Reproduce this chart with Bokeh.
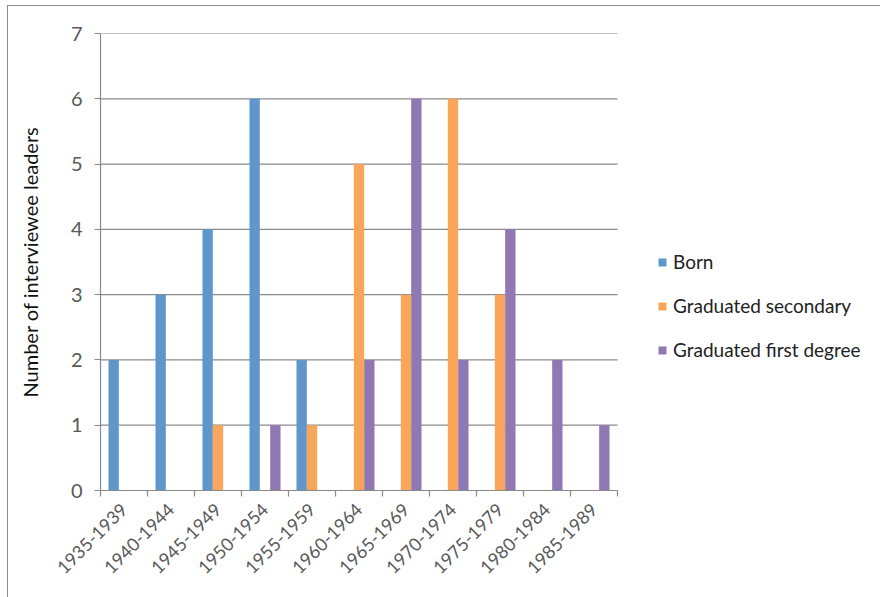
import math

from bokeh.embed import file_html
from bokeh.models import (ColumnDataSource, FixedTicker, InlineStyleSheet, Legend,
                          LegendItem, Range1d)
from bokeh.plotting import figure
from bokeh.resources import INLINE
from bokeh.transform import dodge

# Five-year periods and counts of interviewee leaders per event
periods = ["1935-1939", "1940-1944", "1945-1949", "1950-1954", "1955-1959",
           "1960-1964", "1965-1969", "1970-1974", "1975-1979", "1980-1984",
           "1985-1989"]
born = [2, 3, 4, 6, 2, 0, 0, 0, 0, 0, 0]
graduated_secondary = [0, 0, 1, 0, 1, 5, 3, 6, 3, 0, 0]
graduated_first_degree = [0, 0, 0, 1, 0, 2, 6, 2, 4, 2, 1]
series_labels = ["Born", "Graduated secondary", "Graduated first degree"]
y_ticks = [0, 1, 2, 3, 4, 5, 6, 7]

colors = ["#5F97CA", "#F9A65A", "#9079B2"]
FONT = "Lato"
GRID = "#8A8A8A"

W, H = 880, 597
LEFT, TOP, BOTTOM = 100, 33, 107
BAR_AREA_W = 517          # pixel width of the category area
FRAME_W = W - LEFT        # frame continues to the right so the legend fits in it

n = len(periods)
centers = [i + 0.5 for i in range(n)]
x_end = n * FRAME_W / BAR_AREA_W

source = ColumnDataSource(dict(
    x=centers,
    born=born,
    secondary=graduated_secondary,
    first=graduated_first_degree,
))

# Thin chart-area border along the left and top edges
frame_css = InlineStyleSheet(css="""
:host::after {
  content: "";
  position: absolute;
  left: 7px; top: 5px; right: 0; bottom: 0;
  border-left: 1.5px solid #8C8C8C;
  border-top: 1.5px solid #8C8C8C;
  pointer-events: none;
}
""")

p = figure(
    width=W, height=H,
    x_range=Range1d(0, x_end), y_range=Range1d(0, max(y_ticks)),
    output_backend="svg", toolbar_location=None,
    min_border_left=LEFT, min_border_right=0,
    min_border_top=TOP, min_border_bottom=BOTTOM,
    background_fill_color="white", border_fill_color="white",
    stylesheets=[frame_css],
)
p.outline_line_color = None

# Horizontal gridlines spanning only the category area
p.xgrid.grid_line_color = None
p.ygrid.grid_line_color = None
p.segment(x0=[0] * len(y_ticks), x1=[n] * len(y_ticks), y0=y_ticks, y1=y_ticks,
          line_color=GRID, line_width=1.2, level="underlay")

bar_w = 0.22
offsets = [-bar_w, 0.0, bar_w]
fields = ["born", "secondary", "first"]
renderers = []
for field, off, col in zip(fields, offsets, colors):
    r = p.vbar(x=dodge("x", off, range=p.x_range), top=field, width=bar_w,
               source=source, fill_color=col, line_color=None)
    renderers.append(r)

# Y axis
yax = p.yaxis[0]
yax.ticker = FixedTicker(ticks=y_ticks)
yax.axis_line_color = GRID
yax.axis_line_width = 1.2
yax.major_tick_line_color = GRID
yax.major_tick_line_width = 1.2
yax.major_tick_out = 6
yax.major_tick_in = 0
yax.minor_tick_line_color = None
yax.major_label_text_font = FONT
yax.major_label_text_font_size = "20px"
yax.major_label_text_color = "#595959"
yax.major_label_standoff = 12
yax.axis_label = "Number of interviewee leaders"
yax.axis_label_text_font = FONT
yax.axis_label_text_font_size = "20px"
yax.axis_label_text_font_style = "normal"
yax.axis_label_text_color = "#111111"
yax.axis_label_standoff = 26

# X axis: labels at category centres, tick marks at category boundaries
xax = p.xaxis[0]
xax.bounds = (0, n)
xax.ticker = FixedTicker(ticks=centers, minor_ticks=list(range(n + 1)))
xax.major_label_overrides = {c: lab for c, lab in zip(centers, periods)}
xax.major_label_orientation = math.pi / 4
xax.major_label_text_font = FONT
xax.major_label_text_font_size = "18px"
xax.major_label_text_color = "#595959"
xax.major_label_standoff = 10
xax.major_tick_line_color = None
xax.major_tick_out = 0
xax.major_tick_in = 0
xax.minor_tick_line_color = GRID
xax.minor_tick_line_width = 1.2
xax.minor_tick_out = 6
xax.minor_tick_in = 0
xax.axis_line_color = GRID
xax.axis_line_width = 1.2

# Legend to the right of the bars
legend = Legend(
    items=[LegendItem(label=lab, renderers=[r]) for lab, r in zip(series_labels, renderers)],
    location=(557, 129),
    orientation="vertical",
    glyph_width=10, glyph_height=10,
    label_height=20, label_standoff=6, spacing=21,
    padding=0, margin=0,
    border_line_color=None, background_fill_alpha=0,
    label_text_font=FONT, label_text_font_size="19px", label_text_color="#222222",
)
p.add_layout(legend, "center")

open("out.html", "w").write(file_html(p, INLINE))
